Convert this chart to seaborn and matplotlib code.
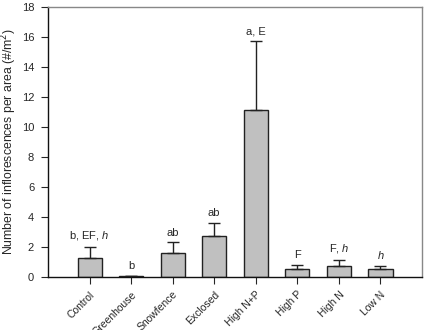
import matplotlib
matplotlib.use("Agg")
import matplotlib.pyplot as plt
import seaborn as sns
import pandas as pd
import numpy as np

categories = ["Control", "Greenhouse", "Snowfence", "Exclosed", "High N+P", "High P", "High N", "Low N"]
means = [1.25, 0.03, 1.6, 2.75, 11.15, 0.52, 0.73, 0.5]
errors = [0.75, 0.03, 0.7, 0.85, 4.6, 0.3, 0.4, 0.25]
labels = [r"b, EF, $\mathit{h}$", "b", "ab", "ab", "a, E", "F", r"F, $\mathit{h}$", r"$\mathit{h}$"]

sns.set_style("white")
plt.rcParams["font.family"] = ["Liberation Sans", "DejaVu Sans"]
plt.rcParams["mathtext.fontset"] = "custom"
plt.rcParams["mathtext.it"] = "Liberation Sans:italic"

fig = plt.figure(figsize=(4.25, 3.3), dpi=100)
ax = fig.add_axes([0.113, 0.161, 0.88, 0.818])

df = pd.DataFrame({"cat": categories, "val": means})
sns.barplot(data=df, x="cat", y="val", color="#c0c0c0", saturation=1,
            edgecolor="#222222", linewidth=1.0, width=0.58, ax=ax)
x = np.arange(len(categories))
ax.errorbar(x, means, yerr=[np.zeros(len(errors)), errors], fmt="none",
            ecolor="#222222", elinewidth=1.0, capsize=4, capthick=1.0)
for xi, m, e, lab in zip(x, means, errors, labels):
    ax.text(xi, m + e + 0.3, lab, ha="center", va="bottom", fontsize=8)

ax.set_xlim(-1, 8)
ax.set_ylim(0, 18)
ax.set_yticks(range(0, 19, 2))
ax.set_xlabel("")
ax.set_ylabel("Number of inflorescences per area (#/m$^2$)", fontsize=8.8, labelpad=2)
ax.set_xticks(x)
ax.set_xticklabels(categories, rotation=45, ha="right", rotation_mode="anchor", fontsize=7.5)
ax.tick_params(axis="y", labelsize=8, direction="out", length=5, width=0.8, left=True, pad=5)
ax.tick_params(axis="x", direction="out", length=5, width=0.8, bottom=True, pad=4)
for s in ["left", "bottom"]:
    ax.spines[s].set_color("#111111")
    ax.spines[s].set_linewidth(1.0)
for s in ["top", "right"]:
    ax.spines[s].set_color("#888888")
    ax.spines[s].set_linewidth(1.0)

fig.savefig("out.png", dpi=100)
